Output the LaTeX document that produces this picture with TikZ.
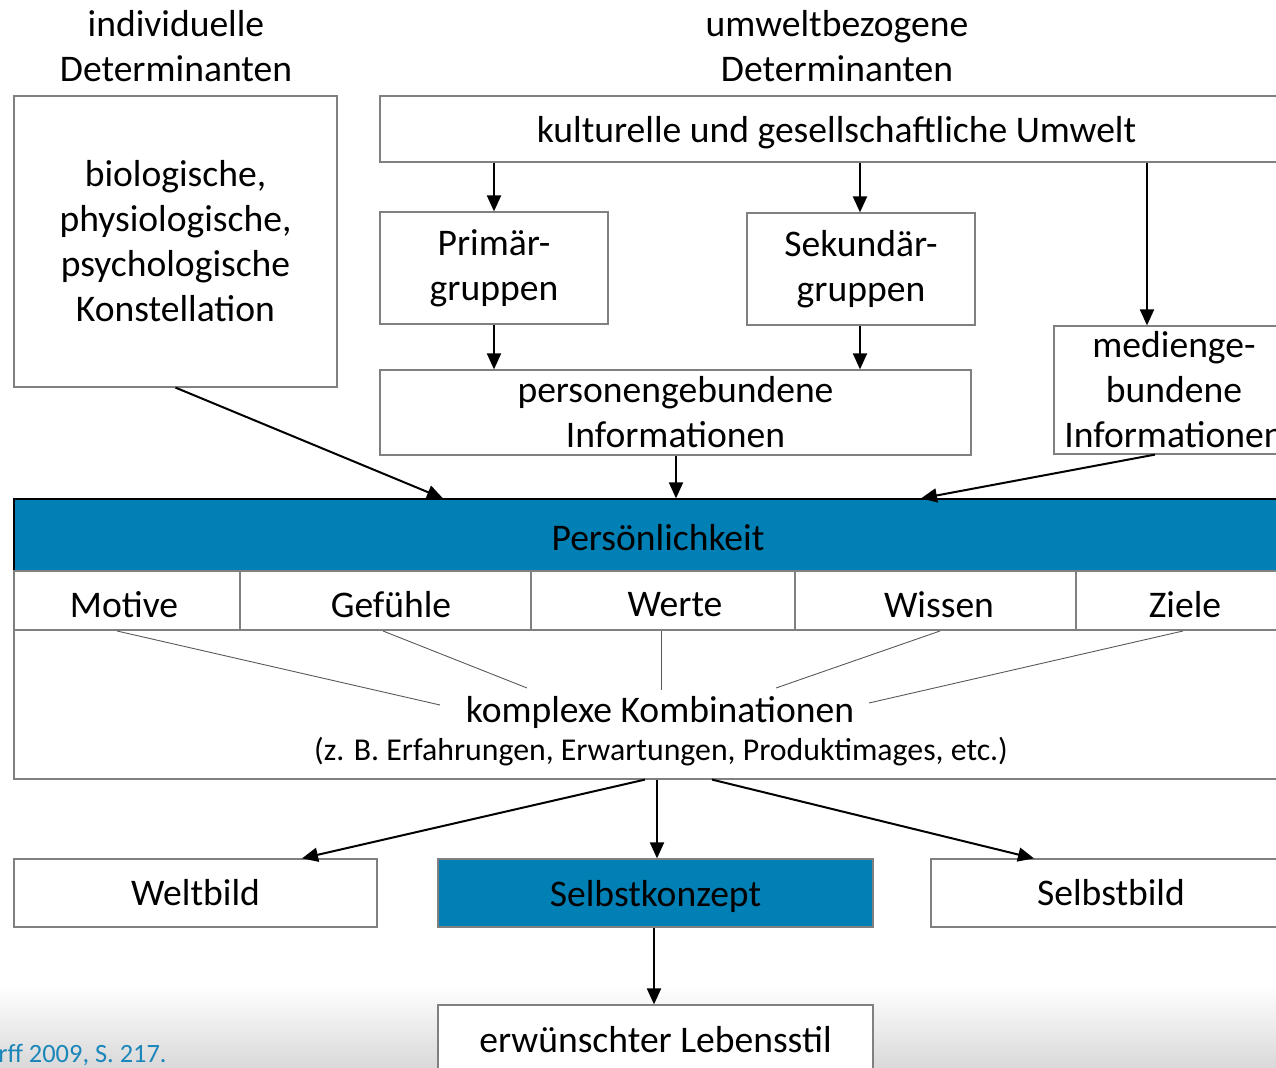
\documentclass[tikz,border=0pt]{standalone}
\usepackage{fontspec}
\setmainfont{Carlito}
\usetikzlibrary{arrows.meta,calc}
\definecolor{barblue}{HTML}{0080B4}
\definecolor{citeblue}{HTML}{1A86BA}
\newcommand{\mainsz}{\fontsize{18.8}{22.5}\selectfont}
\newcommand{\smallsz}{\fontsize{15.9}{18}\selectfont}
\begin{document}
\begin{tikzpicture}[x=0.5pt,y=-0.5pt,
  box/.style={draw=black!50, line width=0.6pt, inner sep=0pt, align=center, font=\mainsz},
  bluebox/.style={box, fill=barblue},
  txt/.style={inner sep=0pt, align=center, font=\mainsz},
  arr/.style={-{Triangle[length=8pt,width=7pt]}, line width=1pt},
  fine/.style={line width=0.45pt, draw=black!65}]
\useasboundingbox (0,0) rectangle (1276,1068);
\clip (0,0) rectangle (1276,1068);
% soft grey band along the bottom
\shade[top color=white, bottom color=black!15] (0,985) rectangle (1276,1068);

% headings
\node[txt] (hind) at (176,46.5) {individuelle\\Determinanten};
\node[txt] (humw) at (837,46.5) {umweltbezogene\\Determinanten};

% upper boxes
\node[box, minimum width=161.5pt, minimum height=145.5pt] (indiv) at (175.5,241.5)
  {biologische,\\physiologische,\\psychologische\\Konstellation};
\node[box, minimum width=456.5pt, minimum height=33pt, text height=13.1pt, text depth=0pt] (kult) at (836.5,129)
  {kulturelle und gesellschaftliche Umwelt};
\node[box, minimum width=114pt, minimum height=56pt] (prim) at (494,268) {Primär-\\gruppen};
\node[box, minimum width=114pt, minimum height=56pt] (sek) at (861,269) {Sekundär-\\gruppen};
\node[box, minimum width=120pt, minimum height=64pt] (medien) at (1174,390)
  {medienge-\\bundene\\Informationen};
\node[box, minimum width=295.5pt, minimum height=42.5pt] (pers) at (675.5,412.5)
  {personengebundene\\Informationen};

% personality bar
\node[bluebox, draw=black, minimum width=644pt, minimum height=36pt, text height=15.6pt, text depth=0pt] (bar) at (658,535) {Persönlichkeit};

% components row and combination frame
\node[box, minimum width=644pt, minimum height=104pt] (komb) at (658,675) {};
\draw[draw=black!50, line width=0.6pt] (14,630) -- (1302,630);
\foreach \xd in {240,531,795,1076} \draw[draw=black!50, line width=0.6pt] (\xd,571) -- (\xd,630);
\node[txt] (motive) at (124,605) {Motive};
\node[txt] (gefuehle) at (391,605) {Gefühle};
\node[txt] (werte) at (675,605) {Werte};
\node[txt] (wissen) at (939,605) {Wissen};
\node[txt] (ziele) at (1185,605) {Ziele};
\node[txt] (kombt) at (660,712) {komplexe Kombinationen};
\node[txt, font=\smallsz] (bsp) at (661,752) {(z. B. Erfahrungen, Erwartungen, Produktimages, etc.)};

% converging lines
\coordinate (m0) at (117,631);
\coordinate (g0) at (383,631);
\coordinate (w0) at (661,631);
\coordinate (s0) at (940,631);
\coordinate (z0) at (1183,631);
\draw[fine] (m0) -- (440,705);
\draw[fine] (g0) -- (527,688);
\draw[fine] (w0) -- (661,690);
\draw[fine] (s0) -- (776,688);
\draw[fine] (z0) -- (869,703);

% lower boxes
\node[box, minimum width=181.5pt, minimum height=34pt] (welt) at (195.5,893) {Weltbild};
\node[bluebox, minimum width=217.5pt, minimum height=34pt, text height=13.5pt, text depth=0pt] (konzept) at (655.5,893) {Selbstkonzept};
\node[box, minimum width=180pt, minimum height=34pt] (sbild) at (1111,893) {Selbstbild};
\node[box, fill=white, minimum width=217.5pt, minimum height=35pt] (stil) at (655.5,1040) {erwünschter Lebensstil};

% source line
\node[anchor=west, inner sep=0pt, text=citeblue, font=\fontsize{13.2}{15}\selectfont] (quelle) at (-2,1055) {rff 2009, S. 217.};

% arrows
\draw[arr] (prim.north |- kult.south) -- (prim.north);
\draw[arr] (860,0 |- kult.south) -- (860,0 |- sek.north);
\draw[arr] (1147,0 |- kult.south) -- (1147,0 |- medien.north);
\draw[arr] (prim.south) -- (prim.south |- pers.north);
\draw[arr] (860,0 |- sek.south) -- (860,0 |- pers.north);
\draw[arr] (indiv.south) -- (443,0 |- bar.north);
\draw[arr] (676,0 |- pers.south) -- (676,0 |- bar.north);
\draw[arr] (1155,0 |- medien.south) -- (921,0 |- bar.north);
\draw[arr] (645,0 |- komb.south) -- (302,0 |- welt.north);
\draw[arr] (657,0 |- komb.south) -- (657,0 |- konzept.north);
\draw[arr] (712,0 |- komb.south) -- (1034,0 |- sbild.north);
\draw[arr] (654,0 |- konzept.south) -- (654,0 |- stil.north);
\end{tikzpicture}
\end{document}
